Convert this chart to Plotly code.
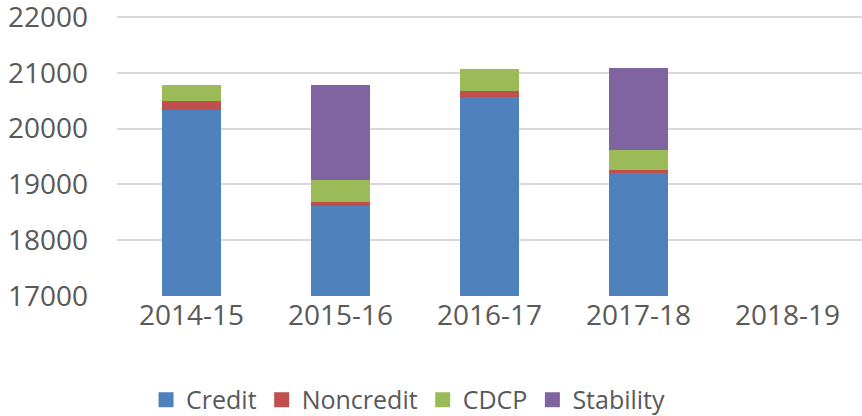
import plotly.graph_objects as go

years = ["2014-15", "2015-16", "2016-17", "2017-18", "2018-19"]
credit = [20337, 18620, 20574, 19196, None]
noncredit = [160, 59, 106, 54, None]
cdcp = [279, 400, 396, 370, None]
stability = [None, 1696, None, 1464, None]
y_ticks = [17000, 18000, 19000, 20000, 21000, 22000]

series = [
    ("Credit", credit, "#4f81bd"),
    ("Noncredit", noncredit, "#c0504d"),
    ("CDCP", cdcp, "#9bbb59"),
    ("Stability", stability, "#8064a2"),
]

fig = go.Figure()
for name, vals, color in series:
    fig.add_trace(go.Bar(
        x=years, y=vals, name=name, width=0.4, showlegend=False,
        marker=dict(color=color, line=dict(width=0)),
    ))
# legend-only square swatches
for name, vals, color in series:
    fig.add_trace(go.Scatter(
        x=[None], y=[None], mode="markers", name=name,
        marker=dict(symbol="square", size=15, color=color),
    ))

font_family = "Open Sans, Liberation Sans, sans-serif"
fig.update_layout(
    barmode="stack",
    width=862, height=416,
    margin=dict(l=117, r=0, t=11, b=120, autoexpand=False),
    paper_bgcolor="white", plot_bgcolor="white",
    font=dict(family=font_family, size=28, color="#595959"),
    showlegend=True,
    legend=dict(orientation="h", x=0.039, xanchor="left",
                yref="container", y=0.0385, yanchor="middle",
                font=dict(size=25, color="#595959"), traceorder="normal",
                itemwidth=30, itemsizing="trace"),
    xaxis=dict(showgrid=False, showline=False, ticks="", tickfont=dict(size=28),
               automargin=False),
    yaxis=dict(range=[17000, 22107.5], tickmode="array", tickvals=y_ticks,
               ticktext=[str(v) for v in y_ticks],
               showgrid=True, gridcolor="#d9d9d9",
               gridwidth=1.5, zeroline=False, showline=False, ticks="",
               ticklabelstandoff=28, ticklabeloverflow="allow",
               tickfont=dict(size=28), automargin=False),
)

fig.write_html("out.html",
               config={"displayModeBar": False},
               post_script="document.body.style.margin='0';document.body.style.overflow='hidden';")
